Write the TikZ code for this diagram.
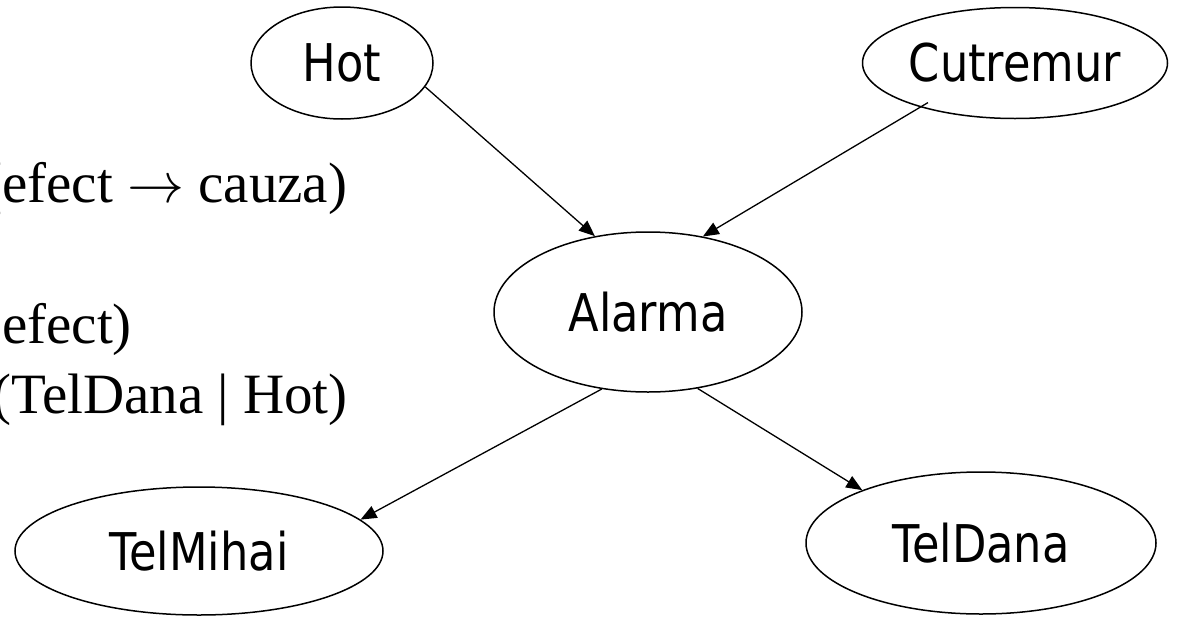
\RequirePackage{fix-cm}
\documentclass[tikz,border=0pt]{standalone}
\usepackage{fontspec}
\setmainfont{Liberation Serif}
\newfontfamily\lblfont[FakeStretch=0.86]{DejaVu Sans}
\usetikzlibrary{shapes.geometric,arrows.meta}
\tikzset{
  var/.style={draw, ellipse, line width=1.5pt, inner sep=0pt,
    font=\lblfont\fontsize{52}{60}\selectfont},
  link/.style={line width=1.3pt, -{Triangle[length=16pt,width=13pt]}},
  note/.style={anchor=base west, inner sep=0pt,
    font=\fontsize{57}{66}\selectfont}
}
\begin{document}
\begin{tikzpicture}[x=1pt,y=-1pt]
  \useasboundingbox (0,0) rectangle (1191,616);
  \clip (0,0) rectangle (1191,616);

  % text on the left, partly cut by the frame
  \node[note] (t1) at (-17,202) {(efect $\rightarrow$ cauza)};
  \node[note] (t2) at (2,343) {efect)};
  \node[note] (t3) at (-8,413) {(TelDana | Hot)};

  % network nodes
  \node[var, minimum width=182pt, minimum height=112pt] (hot) at (342,63) {Hot};
  \node[var, minimum width=305pt, minimum height=111pt] (cut) at (1015,63) {Cutremur};
  \node[var, minimum width=308pt, minimum height=160pt] (alr) at (648,312) {Alarma};
  \node[var, minimum width=368pt, minimum height=128pt] (mih) at (199,551) {TelMihai};
  \node[var, minimum width=350pt, minimum height=142pt] (dan) at (981,543) {TelDana};

  % dependencies
  \draw[link] (hot.-16) -- (alr.125.6);
  \draw[link, shorten <=-9pt] (cut.205) -- (alr.54.9);
  \draw[link] (alr.239.3) -- (mih.11.9);
  \draw[link] (alr.-57) -- (dan.156.9);
\end{tikzpicture}
\end{document}
